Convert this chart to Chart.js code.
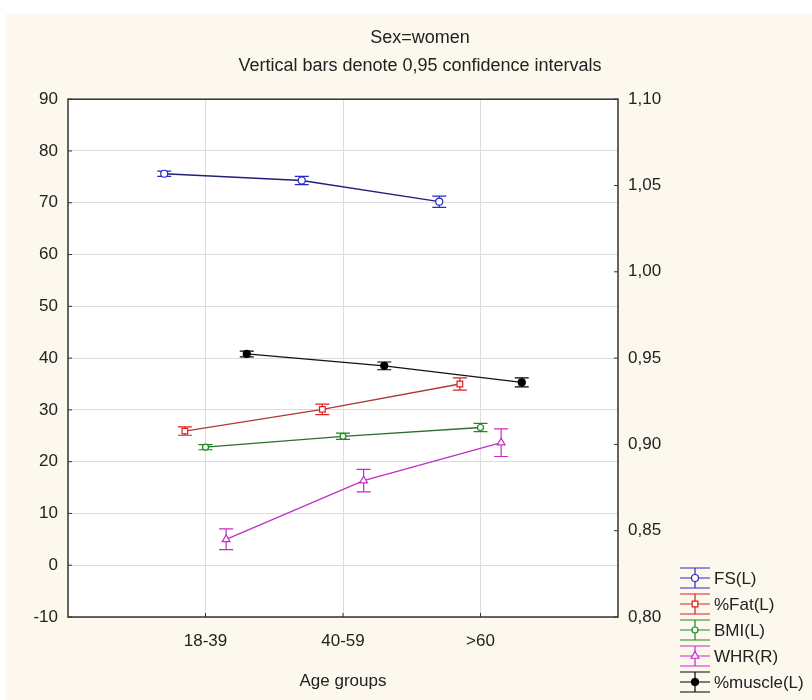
<!DOCTYPE html>
<html>
<head>
<meta charset="utf-8">
<script src="https://cdn.jsdelivr.net/npm/chart.js@4.4.1/dist/chart.umd.min.js"></script>
<style>
  html, body { margin: 0; padding: 0; background: #ffffff; }
</style>
</head>
<body>
<canvas id="myChart" width="812" height="700"></canvas>
<script>
// ---------------- data ----------------
const ageGroups = ['18-39', '40-59', '>60'];

const fsMean = [75.6, 74.3, 70.2];
const fsCI = [0.5, 0.8, 1.1];

const fatMean = [25.9, 30.1, 35.0];
const fatCI = [0.8, 1.0, 1.2];

const bmiMean = [22.8, 24.9, 26.6];
const bmiCI = [0.5, 0.6, 0.8];

const whrMean = [0.845, 0.879, 0.901];   // right axis
const whrCI = [0.006, 0.0065, 0.008];

const muscleMean = [40.8, 38.5, 35.3];
const muscleCI = [0.55, 0.75, 0.87];

const leftTicks = [-10, 90, 10];      // min, max, step
const rightTicks = [0.80, 1.10, 0.05];

const FONT = "'Liberation Sans', Arial, sans-serif";
const CREAM = '#fcf8ee';

// build one series, dodged sideways a little around its category
function makeSet(label, means, ci, axis, dodge, color, lineColor, style, radius, filled) {
  return {
    label: label,
    data: means.map((v, i) => ({ x: i + 1 + dodge, y: v })),
    errors: ci,
    yAxisID: axis,
    borderColor: lineColor,
    borderWidth: 1.3,
    pointStyle: style,
    pointRadius: radius,
    pointBorderColor: color,
    pointBackgroundColor: filled ? color : '#ffffff',
    pointBorderWidth: 1.2,
    tension: 0,
    fill: false
  };
}

const datasets = [
  makeSet('FS(L)', fsMean, fsCI, 'y', -0.3, '#2a2ac0', '#20207a', 'circle', 3.5, false),
  makeSet('%Fat(L)', fatMean, fatCI, 'y', -0.15, '#d82020', '#b03838', 'rect', 4, false),
  makeSet('BMI(L)', bmiMean, bmiCI, 'y', 0, '#1a8a1a', '#2f6f2f', 'circle', 3, false),
  makeSet('WHR(R)', whrMean, whrCI, 'y2', 0.15, '#c82ac8', '#c030c8', 'triangle', 4.5, false),
  makeSet('%muscle(L)', muscleMean, muscleCI, 'y', 0.3, '#000000', '#111111', 'circle', 3.5, true)
];

// ---------------- plugins ----------------
// page background + white plot area
const backdrop = {
  id: 'backdrop',
  beforeDraw(chart) {
    const ctx = chart.ctx, a = chart.chartArea;
    ctx.save();
    ctx.fillStyle = '#ffffff';
    ctx.fillRect(0, 0, chart.width, chart.height);
    ctx.fillStyle = CREAM;
    ctx.fillRect(6, 14, chart.width - 6, chart.height - 14);
    ctx.fillStyle = '#ffffff';
    ctx.fillRect(a.left, a.top, a.right - a.left, a.bottom - a.top);
    ctx.restore();
  }
};

// vertical confidence bars
const errorBars = {
  id: 'errorBars',
  beforeDatasetsDraw(chart) {
    const ctx = chart.ctx;
    const xs = chart.scales.x;
    chart.data.datasets.forEach(ds => {
      const ys = chart.scales[ds.yAxisID];
      ctx.save();
      ctx.strokeStyle = ds.pointBorderColor;
      ctx.lineWidth = 1.2;
      ds.data.forEach((p, i) => {
        const px = xs.getPixelForValue(p.x);
        const top = ys.getPixelForValue(p.y + ds.errors[i]);
        const bot = ys.getPixelForValue(p.y - ds.errors[i]);
        ctx.beginPath();
        ctx.moveTo(px, top); ctx.lineTo(px, bot);
        ctx.moveTo(px - 7, top); ctx.lineTo(px + 7, top);
        ctx.moveTo(px - 7, bot); ctx.lineTo(px + 7, bot);
        ctx.stroke();
      });
      ctx.restore();
    });
  }
};

// frame round the plot, short inward ticks, and the legend
const frameAndLegend = {
  id: 'frameAndLegend',
  afterDraw(chart) {
    const ctx = chart.ctx, a = chart.chartArea;
    ctx.save();
    ctx.strokeStyle = '#333333';
    ctx.lineWidth = 1.5;
    ctx.strokeRect(a.left, a.top, a.right - a.left, a.bottom - a.top);

    ctx.lineWidth = 1;
    ctx.beginPath();
    chart.scales.y.ticks.forEach(t => {
      const py = chart.scales.y.getPixelForValue(t.value);
      ctx.moveTo(a.left, py); ctx.lineTo(a.left + 4, py);
    });
    chart.scales.y2.ticks.forEach(t => {
      const py = chart.scales.y2.getPixelForValue(t.value);
      ctx.moveTo(a.right, py); ctx.lineTo(a.right - 4, py);
    });
    chart.scales.x.ticks.forEach(t => {
      const px = chart.scales.x.getPixelForValue(t.value);
      ctx.moveTo(px, a.bottom); ctx.lineTo(px, a.bottom - 4);
    });
    ctx.stroke();

    // legend
    const x0 = 680, x1 = 710, xc = 695;
    chart.data.datasets.forEach((ds, k) => {
      const cy = 578 + k * 26;
      ctx.strokeStyle = ds.pointBorderColor;
      ctx.lineWidth = 1.2;
      ctx.beginPath();
      ctx.moveTo(x0, cy - 10); ctx.lineTo(x1, cy - 10);
      ctx.moveTo(x0, cy); ctx.lineTo(x1, cy);
      ctx.moveTo(x0, cy + 10); ctx.lineTo(x1, cy + 10);
      ctx.moveTo(xc, cy - 10); ctx.lineTo(xc, cy + 10);
      ctx.stroke();
      ctx.fillStyle = ds.pointBackgroundColor;
      Chart.helpers.drawPoint(ctx, {
        pointStyle: ds.pointStyle, rotation: 0,
        radius: ds.pointRadius, borderWidth: ds.pointBorderWidth
      }, xc, cy);
      ctx.fillStyle = '#222222';
      ctx.font = '17px ' + FONT;
      ctx.textAlign = 'left';
      ctx.textBaseline = 'middle';
      ctx.fillText(ds.label, 714, cy + 1);
    });
    ctx.restore();
  }
};

// ---------------- chart ----------------
const ctx = document.getElementById('myChart').getContext('2d');
const myChart = new Chart(ctx, {
  type: 'line',
  data: { datasets: datasets },
  plugins: [backdrop, errorBars, frameAndLegend],
  options: {
    responsive: false,
    animation: false,
    layout: { padding: { left: 28, top: 0, right: 0, bottom: 0 } },
    plugins: {
      legend: { display: false },
      tooltip: { enabled: false },
      title: {
        display: true,
        text: 'Sex=women',
        color: '#222222',
        font: { family: FONT, size: 18, weight: 'normal' },
        padding: { top: 27, bottom: 3 }
      },
      subtitle: {
        display: true,
        text: 'Vertical bars denote 0,95 confidence intervals',
        color: '#222222',
        font: { family: FONT, size: 18, weight: 'normal' },
        padding: { top: 4, bottom: 22 }
      }
    },
    scales: {
      x: {
        type: 'linear',
        min: 0,
        max: 4,
        afterBuildTicks: scale => { scale.ticks = ageGroups.map((g, i) => ({ value: i + 1 })); },
        afterFit: scale => { scale.height = 83; },
        grid: { color: '#dcdcdc', drawTicks: false },
        border: { display: false },
        ticks: {
          padding: 14,
          color: '#222222',
          font: { family: FONT, size: 17 },
          callback: v => ageGroups[v - 1]
        },
        title: {
          display: true,
          text: 'Age groups',
          color: '#222222',
          font: { family: FONT, size: 17 },
          padding: { top: 0, bottom: 8 }
        }
      },
      y: {
        position: 'left',
        min: leftTicks[0],
        max: leftTicks[1],
        afterFit: scale => { scale.width = 40; },
        grid: { color: '#dcdcdc', drawTicks: false },
        border: { display: false },
        ticks: {
          stepSize: leftTicks[2],
          padding: 10,
          color: '#222222',
          font: { family: FONT, size: 17 }
        }
      },
      y2: {
        position: 'right',
        min: rightTicks[0],
        max: rightTicks[1],
        afterFit: scale => { scale.width = 194; },
        grid: { drawOnChartArea: false, drawTicks: false },
        border: { display: false },
        ticks: {
          stepSize: rightTicks[2],
          padding: 10,
          color: '#222222',
          font: { family: FONT, size: 17 },
          callback: v => v.toFixed(2).replace('.', ',')
        }
      }
    }
  }
});
</script>
</body>
</html>
